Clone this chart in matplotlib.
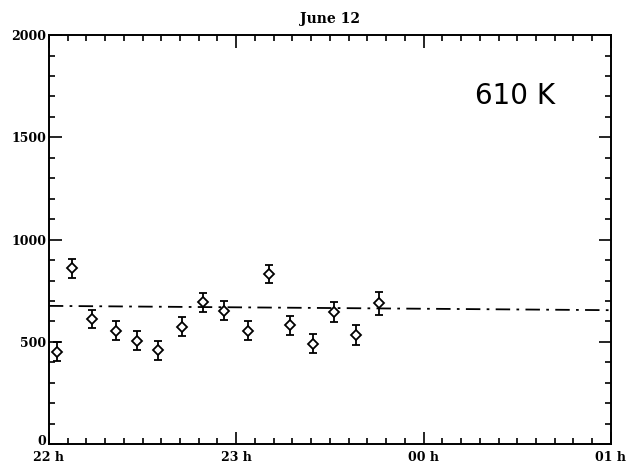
import numpy as np
import matplotlib
matplotlib.use('Agg')
import matplotlib.pyplot as plt
import matplotlib.transforms as mtrans
from matplotlib.ticker import MultipleLocator

# time in hours after 22 h, count rate
hours = [0.044, 0.121, 0.233, 0.357, 0.468, 0.585, 0.709, 0.823,
         0.935, 1.061, 1.175, 1.285, 1.410, 1.522, 1.637, 1.760]
rate = [452, 859, 611, 554, 505, 459, 574, 693,
        652, 554, 832, 582, 492, 647, 533, 688]
err = [47, 46, 45, 46, 47, 47, 47, 47,
       46, 46, 46, 46, 47, 48, 50, 56]

fit_x = [0.0, 3.0]
fit_y = [676, 655]

tick_pos = [0, 1, 2, 3]
tick_lab = ['22 h', '23 h', '00 h', '01 h']

serif = ['DejaVu Serif']

fig = plt.figure(figsize=(6.26, 4.68), dpi=100)
ax = fig.add_axes([0.078, 0.051, 0.898, 0.874])

ax.errorbar(hours, rate, yerr=err, fmt='D', mfc='white', mec='black',
            ms=5.5, mew=1.3, ecolor='black', elinewidth=1.3, capsize=3,
            capthick=1.3)
ax.plot(fit_x, fit_y, color='black', lw=1.3, ls=(0, (8, 3.5, 1.5, 3.5)))

ax.set_xlim(0, 3)
ax.set_ylim(0, 2000)
ax.set_xticks(tick_pos)
ax.set_xticklabels(tick_lab)
ax.xaxis.set_minor_locator(MultipleLocator(0.1))
ax.set_yticks([0, 500, 1000, 1500, 2000])
ax.yaxis.set_minor_locator(MultipleLocator(100))

ax.tick_params(which='both', direction='in', top=True, right=True, width=1.2)
ax.tick_params(which='major', length=9)
ax.tick_params(which='minor', length=4)
ax.tick_params(axis='x', pad=5)
ax.tick_params(axis='y', pad=2)
for lab in ax.get_xticklabels() + ax.get_yticklabels():
    lab.set_family(serif)
    lab.set_fontweight('bold')
    lab.set_fontsize(9)
# lift the "0" a little so it clears "22 h"
zero = ax.get_yticklabels()[0]
zero.set_transform(zero.get_transform() +
                   mtrans.ScaledTranslation(0, 3 / 72, fig.dpi_scale_trans))
for s in ax.spines.values():
    s.set_linewidth(1.4)

ax.set_title('June 12', family=serif, fontweight='bold', fontsize=10, pad=9)
ax.text(0.83, 0.85, '610 K', transform=ax.transAxes, fontsize=20,
        family='DejaVu Sans', ha='center', va='center')

fig.savefig('out.png', dpi=100)
